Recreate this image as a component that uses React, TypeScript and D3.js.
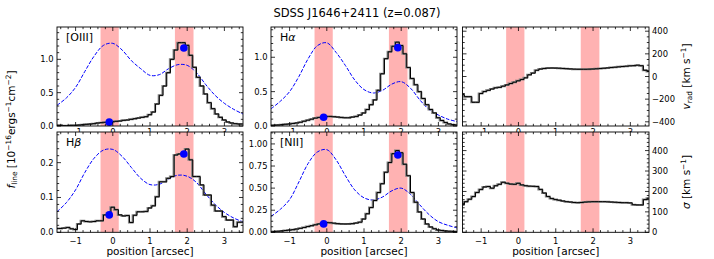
import React from 'react';
import * as d3 from 'd3';

// ---------- data ----------
const POS = [-1.5, -1.4, -1.3, -1.2, -1.1, -1.0, -0.9, -0.8, -0.7, -0.6, -0.5, -0.4, -0.3, -0.2, -0.1, 0.0, 0.1, 0.2, 0.3, 0.4, 0.5, 0.6, 0.7, 0.8, 0.9, 1.0, 1.1, 1.2, 1.3, 1.4, 1.5, 1.6, 1.7, 1.8, 1.9, 2.0, 2.1, 2.2, 2.3, 2.4, 2.5, 2.6, 2.7, 2.8, 2.9, 3.0, 3.1, 3.2, 3.3, 3.4, 3.5];
const MODEL_POS = [-1.5, -1.25, -1.0, -0.75, -0.5, -0.25, 0.0, 0.25, 0.5, 0.75, 1.0, 1.25, 1.5, 1.75, 2.0, 2.25, 2.5, 2.75, 3.0, 3.25, 3.5];

const OIII_FLUX = [0.01, 0.01, 0.005, 0.005, 0.01, 0.01, 0.015, 0.02, 0.025, 0.03, 0.035, 0.045, 0.05, 0.055, 0.06, 0.065, 0.07, 0.075, 0.085, 0.09, 0.1, 0.11, 0.12, 0.13, 0.14, 0.17, 0.21, 0.33, 0.46, 0.6, 0.8, 1.0, 1.14, 1.25, 1.25, 1.21, 1.06, 0.88, 0.73, 0.6, 0.48, 0.35, 0.26, 0.18, 0.13, 0.09, 0.06, 0.045, 0.035, 0.03, 0.03];
const OIII_MODEL = [0.31, 0.42, 0.58, 0.82, 1.05, 1.21, 1.24, 1.14, 0.98, 0.86, 0.76, 0.77, 0.86, 0.92, 0.91, 0.8, 0.62, 0.46, 0.34, 0.25, 0.18];
const OIII_DOTS: [number, number][] = [[-0.095, 0.058], [1.91, 1.17]];

const HA_FLUX = [0.01, 0.012, 0.015, 0.02, 0.025, 0.03, 0.037, 0.045, 0.055, 0.07, 0.085, 0.1, 0.115, 0.125, 0.135, 0.14, 0.14, 0.135, 0.13, 0.125, 0.12, 0.12, 0.13, 0.14, 0.16, 0.19, 0.24, 0.31, 0.38, 0.52, 0.76, 0.98, 1.08, 1.16, 1.22, 1.17, 1.05, 0.85, 0.69, 0.6, 0.5, 0.4, 0.31, 0.24, 0.19, 0.12, 0.08, 0.05, 0.03, 0.02, 0.015];
const HA_MODEL = [0.25, 0.36, 0.5, 0.72, 0.98, 1.17, 1.21, 1.07, 0.88, 0.67, 0.53, 0.48, 0.52, 0.61, 0.645, 0.55, 0.38, 0.24, 0.16, 0.1, 0.065];
const HA_DOTS: [number, number][] = [[-0.085, 0.128], [1.91, 1.14]];

const HB_FLUX = [0.011, 0.011, 0.012, 0.014, 0.01, 0.008, 0.024, 0.033, 0.031, 0.03, 0.031, 0.033, 0.033, 0.05, 0.055, 0.072, 0.065, 0.05, 0.047, 0.048, 0.028, 0.049, 0.059, 0.059, 0.06, 0.07, 0.076, 0.102, 0.145, 0.145, 0.155, 0.16, 0.222, 0.225, 0.227, 0.239, 0.208, 0.16, 0.16, 0.136, 0.107, 0.107, 0.078, 0.061, 0.061, 0.045, 0.035, 0.035, 0.016, 0.029, 0.029];
const HB_MODEL = [0.059, 0.085, 0.122, 0.172, 0.213, 0.236, 0.238, 0.218, 0.186, 0.155, 0.137, 0.138, 0.153, 0.164, 0.161, 0.143, 0.11, 0.08, 0.057, 0.041, 0.03];
const HB_DOTS: [number, number][] = [[-0.095, 0.05], [1.91, 0.225]];

const NII_FLUX = [0.005, 0.008, 0.012, 0.016, 0.02, 0.025, 0.03, 0.037, 0.045, 0.055, 0.065, 0.075, 0.085, 0.095, 0.105, 0.11, 0.108, 0.103, 0.098, 0.095, 0.094, 0.095, 0.098, 0.105, 0.115, 0.15, 0.21, 0.28, 0.36, 0.45, 0.55, 0.68, 0.79, 0.89, 0.925, 0.9, 0.77, 0.64, 0.45, 0.34, 0.23, 0.15, 0.094, 0.06, 0.04, 0.025, 0.02, 0.015, 0.012, 0.01, 0.008];
const NII_MODEL = [0.18, 0.26, 0.37, 0.57, 0.78, 0.91, 0.935, 0.82, 0.64, 0.48, 0.39, 0.365, 0.4, 0.47, 0.5, 0.43, 0.31, 0.2, 0.12, 0.08, 0.05];
const NII_DOTS: [number, number][] = [[-0.085, 0.095], [1.91, 0.875]];

const VRAD = [-160, -178, -178, -228, -228, -150, -133, -122, -110, -100, -96, -85, -74, -62, -50, -38, -26, -12, 15, 30, 55, 66, 71, 74, 75, 74, 73, 71, 69, 67, 65, 64, 64, 64, 65, 66, 68, 70, 73, 76, 79, 82, 85, 88, 91, 94, 96, 100, 95, 55, 45];
const SIGMA = [135, 150, 162, 175, 195, 210, 222, 224, 216, 228, 235, 245, 240, 236, 235, 240, 232, 228, 226, 225, 224, 210, 192, 175, 165, 160, 157, 153, 150, 148, 146, 145, 146, 148, 149, 150, 150, 150, 150, 149, 148, 147, 146, 145, 145, 144, 135, 134, 134, 160, 167];

const BANDS: [number, number][] = [[-0.33, 0.16], [1.67, 2.17]];
const X_TICKS = [-1, 0, 1, 2, 3];

const FONT = 'DejaVu Sans, Liberation Sans, sans-serif';
const TICK_FS = 8.4;

type Cfg = {
  id: string;
  x0: number; x1: number; y0: number; y1: number;
  ydom: [number, number];
  yticks: number[];
  yminor: number;
  yfmt: (v: number) => string;
  ySide: 'left' | 'right';
  xLabelY: number;
  label?: React.ReactNode;
  step: number[];
  model?: number[];
  dots?: [number, number][];
};

const minus = (s: string) => s.replace('-', '\u2212');

function minorTicks(dom: [number, number], step: number, majors: number[]) {
  const out: number[] = [];
  const start = Math.ceil(dom[0] / step - 1e-9);
  const end = Math.floor(dom[1] / step + 1e-9);
  for (let i = start; i <= end; i++) {
    const v = i * step;
    if (!majors.some((m) => Math.abs(m - v) < step * 0.01)) out.push(v);
  }
  return out;
}

function Panel({ c }: { c: Cfg }) {
  const xs = d3.scaleLinear().domain([-1.5, 3.5]).range([c.x0, c.x1]);
  const ys = d3.scaleLinear().domain(c.ydom).range([c.y1, c.y0]);
  const stepLine = d3.line<number>().x((_, i) => xs(POS[i])).y((d) => ys(d)).curve(d3.curveStep);
  const modelLine = d3.line<number>().x((_, i) => xs(MODEL_POS[i])).y((d) => ys(d)).curve(d3.curveCatmullRom.alpha(0.5));
  const xMinor = minorTicks([-1.5, 3.5], 0.2, X_TICKS);
  const yMinor = minorTicks(c.ydom, c.yminor, c.yticks);
  const w = c.x1 - c.x0, h = c.y1 - c.y0;
  const MJ = 4, MN = 2.2;
  const tickStroke = { stroke: '#000', strokeWidth: 0.8 };
  return (
    <g>
      <rect x={c.x0} y={c.y0} width={w} height={h} fill="#fff" />
      <defs>
        <clipPath id={c.id}>
          <rect x={c.x0} y={c.y0} width={w} height={h} />
        </clipPath>
      </defs>
      <g clipPath={`url(#${c.id})`}>
        {BANDS.map((b, i) => (
          <rect key={i} x={xs(b[0])} y={c.y0} width={xs(b[1]) - xs(b[0])} height={h} fill="#ff0000" fillOpacity={0.3} />
        ))}
        {c.model && (
          <path d={modelLine(c.model) || ''} fill="none" stroke="#0000ff" strokeWidth={1} strokeDasharray="3.7,1.6" />
        )}
        <path d={stepLine(c.step) || ''} fill="none" stroke="#808080" strokeWidth={2} transform="translate(-0.6,0)" />
        <path d={stepLine(c.step) || ''} fill="none" stroke="#000" strokeWidth={1} />
      </g>
      {c.dots && c.dots.map((d, i) => <circle key={i} cx={xs(d[0])} cy={ys(d[1])} r={3.8} fill="#0000ff" />)}
      {X_TICKS.map((t) => (
        <g key={'xt' + t}>
          <line x1={xs(t)} x2={xs(t)} y1={c.y1} y2={c.y1 - MJ} {...tickStroke} />
          <line x1={xs(t)} x2={xs(t)} y1={c.y0} y2={c.y0 + MJ} {...tickStroke} />
        </g>
      ))}
      {xMinor.map((t) => (
        <g key={'xm' + t}>
          <line x1={xs(t)} x2={xs(t)} y1={c.y1} y2={c.y1 - MN} {...tickStroke} />
          <line x1={xs(t)} x2={xs(t)} y1={c.y0} y2={c.y0 + MN} {...tickStroke} />
        </g>
      ))}
      {c.yticks.map((t) => (
        <g key={'yt' + t}>
          <line x1={c.x0} x2={c.x0 + MJ} y1={ys(t)} y2={ys(t)} {...tickStroke} />
          <line x1={c.x1} x2={c.x1 - MJ} y1={ys(t)} y2={ys(t)} {...tickStroke} />
        </g>
      ))}
      {yMinor.map((t) => (
        <g key={'ym' + t}>
          <line x1={c.x0} x2={c.x0 + MN} y1={ys(t)} y2={ys(t)} {...tickStroke} />
          <line x1={c.x1} x2={c.x1 - MN} y1={ys(t)} y2={ys(t)} {...tickStroke} />
        </g>
      ))}
      <rect x={c.x0} y={c.y0} width={w} height={h} fill="none" stroke="#000" strokeWidth={0.9} />
      {X_TICKS.map((t) => (
        <text key={'xl' + t} x={xs(t)} y={c.xLabelY} fontSize={TICK_FS} textAnchor="middle" fontFamily={FONT}>
          {minus(String(t))}
        </text>
      ))}
      {c.yticks.map((t) => (
        <text
          key={'yl' + t}
          x={c.ySide === 'left' ? c.x0 - 3.5 : c.x1 + 3}
          y={ys(t)}
          dy="0.36em"
          fontSize={TICK_FS}
          textAnchor={c.ySide === 'left' ? 'end' : 'start'}
          fontFamily={FONT}
        >
          {minus(c.yfmt(t))}
        </text>
      ))}
      {c.label && (
        <text x={c.x0 + 9} y={c.y0 + 14} fontSize={11} fontFamily={FONT}>
          {c.label}
        </text>
      )}
    </g>
  );
}

const COLS = [
  { x0: 57, x1: 243 },
  { x0: 271, x1: 457 },
  { x0: 462.5, x1: 649 },
];
const TOP = { y0: 27, y1: 126 };
const BOT = { y0: 132, y1: 232.3 };

const f1 = (v: number) => v.toFixed(1);
const f2 = (v: number) => v.toFixed(2);
const f0 = (v: number) => v.toFixed(0);

export default function App() {
  const topXLabelY = 134.6;
  const botXLabelY = 244.3;
  const topPanels: Cfg[] = [
    { id: 'c1', ...COLS[0], ...TOP, ydom: [0, 1.485], yticks: [0, 0.5, 1.0], yminor: 0.1, yfmt: f1, ySide: 'left', xLabelY: topXLabelY,
      label: '[OIII]', step: OIII_FLUX, model: OIII_MODEL, dots: OIII_DOTS },
    { id: 'c2', ...COLS[1], ...TOP, ydom: [0, 1.44], yticks: [0, 0.5, 1.0], yminor: 0.1, yfmt: f1, ySide: 'left', xLabelY: topXLabelY,
      label: (<><tspan>H</tspan><tspan fontStyle="italic">α</tspan></>), step: HA_FLUX, model: HA_MODEL, dots: HA_DOTS },
    { id: 'c3', ...COLS[2], ...TOP, ydom: [-437, 437], yticks: [-400, -200, 0, 200, 400], yminor: 50, yfmt: f0, ySide: 'right', xLabelY: topXLabelY,
      step: VRAD },
  ];
  const botPanels: Cfg[] = [
    { id: 'c4', ...COLS[0], ...BOT, ydom: [0, 0.288], yticks: [0, 0.1, 0.2], yminor: 0.02, yfmt: f1, ySide: 'left', xLabelY: botXLabelY,
      label: (<><tspan>H</tspan><tspan fontStyle="italic">β</tspan></>), step: HB_FLUX, model: HB_MODEL, dots: HB_DOTS },
    { id: 'c5', ...COLS[1], ...BOT, ydom: [0, 1.135], yticks: [0, 0.25, 0.5, 0.75, 1.0], yminor: 0.0625, yfmt: f2, ySide: 'left', xLabelY: botXLabelY,
      label: '[NII]', step: NII_FLUX, model: NII_MODEL, dots: NII_DOTS },
    { id: 'c6', ...COLS[2], ...BOT, ydom: [0, 491], yticks: [0, 100, 200, 300, 400], yminor: 20, yfmt: f0, ySide: 'right', xLabelY: botXLabelY,
      step: SIGMA },
  ];
  const LFS = 10.5;
  const SFS = 7.4;
  return (
    <svg width={714} height={259} style={{ display: 'block', position: 'absolute', left: 0, top: 0 }} fontFamily={FONT}>
      <rect width={714} height={259} fill="#fff" />
      <text x={357} y={16.5} fontSize={11.5} textAnchor="middle">SDSS J1646+2411 (z=0.087)</text>
      {topPanels.map((c) => <Panel key={c.id} c={c} />)}
      {botPanels.map((c) => <Panel key={c.id} c={c} />)}
      {COLS.map((c, i) => (
        <text key={'xlab' + i} x={(c.x0 + c.x1) / 2} y={255.3} fontSize={LFS} textAnchor="middle">position [arcsec]</text>
      ))}
      <text transform="translate(15,129.5) rotate(-90)" fontSize={LFS} textAnchor="middle">
        <tspan fontStyle="italic">f</tspan>
        <tspan fontSize={SFS} dy={2}>line</tspan>
        <tspan dy={-2}> [10</tspan>
        <tspan fontSize={SFS} dy={-4}>−16</tspan>
        <tspan dy={4}>ergs</tspan>
        <tspan fontSize={SFS} dy={-4}>−1</tspan>
        <tspan dy={4}>cm</tspan>
        <tspan fontSize={SFS} dy={-4}>−2</tspan>
        <tspan dy={4}>]</tspan>
      </text>
      <text transform="translate(690,76.5) rotate(-90)" fontSize={LFS} textAnchor="middle">
        <tspan fontStyle="italic">v</tspan>
        <tspan fontSize={SFS} dy={2}>rad</tspan>
        <tspan dy={-2}> [km s</tspan>
        <tspan fontSize={SFS} dy={-4}>−1</tspan>
        <tspan dy={4}>]</tspan>
      </text>
      <text transform="translate(690,182) rotate(-90)" fontSize={LFS} textAnchor="middle">
        <tspan fontStyle="italic">σ</tspan>
        <tspan> [km s</tspan>
        <tspan fontSize={SFS} dy={-4}>−1</tspan>
        <tspan dy={4}>]</tspan>
      </text>
    </svg>
  );
}
